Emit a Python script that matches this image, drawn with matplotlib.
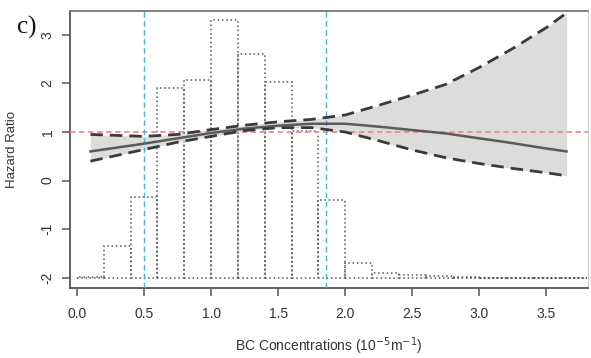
import matplotlib
matplotlib.use("Agg")
import matplotlib.pyplot as plt
import numpy as np

plt.rcParams["font.family"] = ["Liberation Sans", "DejaVu Sans"]

# Histogram of exposure (bin edges every 0.2), bar tops on the hazard-ratio axis, base at -2
bin_left = [0.0, 0.2, 0.4, 0.6, 0.8, 1.0, 1.2, 1.4, 1.6, 1.8, 2.0, 2.2, 2.4, 2.6,
            2.8, 3.0, 3.2, 3.4, 3.6]
bin_top = [-1.98, -1.35, -0.33, 1.90, 2.08, 3.30, 2.61, 2.02, 1.03, -0.39, -1.70,
           -1.91, -1.95, -1.97, -1.99, -2.0, -2.0, -2.0, -2.0]
hist_base = -2.0
bin_width = 0.2

# Fitted spline with confidence bounds
bc = [0.1, 0.3, 0.5, 0.75, 1.0, 1.25, 1.5, 1.75, 2.0, 2.25, 2.5, 2.75, 3.0, 3.25, 3.5, 3.65]
hr = [0.60, 0.68, 0.76, 0.87, 0.98, 1.07, 1.13, 1.17, 1.17, 1.11, 1.04, 0.97, 0.87, 0.77, 0.66, 0.60]
hr_upper = [0.95, 0.93, 0.91, 0.95, 1.05, 1.14, 1.21, 1.26, 1.35, 1.55, 1.76, 1.98, 2.33, 2.72, 3.15, 3.45]
hr_lower = [0.40, 0.52, 0.64, 0.79, 0.91, 1.03, 1.09, 1.09, 1.00, 0.82, 0.63, 0.47, 0.35, 0.25, 0.16, 0.10]

# Reference lines
ref_hr = 1.0
cut_points = [0.5, 1.86]

xticks = [0.0, 0.5, 1.0, 1.5, 2.0, 2.5, 3.0, 3.5]
yticks = [-2, -1, 0, 1, 2, 3]

W, H = 591, 358
fig = plt.figure(figsize=(W / 100, H / 100), dpi=100)
ax = fig.add_axes([70 / W, (H - 288) / H, (588 - 70) / W, (288 - 11) / H])

ax.bar(bin_left, np.array(bin_top) - hist_base, width=bin_width, bottom=hist_base,
       align="edge", fill=False, edgecolor="#555555", linestyle=(0, (1, 1.8)),
       linewidth=1.1, zorder=1)

ax.fill_between(bc, hr_lower, hr_upper, color="#dcdcdc", linewidth=0, zorder=2)
ax.plot(bc, hr, color="#5a5a5a", linewidth=1.8, zorder=4)
ax.plot(bc, hr_upper, color="#3a3a3a", linewidth=2.0, linestyle=(0, (4.5, 2.5)), zorder=4)
ax.plot(bc, hr_lower, color="#3a3a3a", linewidth=2.0, linestyle=(0, (4.5, 2.5)), zorder=4)

ax.axhline(ref_hr, color="#f08a8a", linewidth=1.3, linestyle=(0, (3, 2)), zorder=3)
for c in cut_points:
    ax.axvline(c, color="#48b4c8", linewidth=1.0, linestyle=(0, (4, 2.5)), zorder=3)

ax.set_xlim(-0.052, 3.81)
ax.set_ylim(-2.21, 3.49)
ax.set_xticks(xticks)
ax.set_xticklabels([f"{t:.1f}" for t in xticks])
ax.set_yticks(yticks)
ax.set_yticklabels([str(t) for t in yticks], rotation=90, va="center")

for s in ax.spines.values():
    s.set_color("#555555")
    s.set_linewidth(1.3)
ax.spines["right"].set_color("#cccccc")
ax.spines["right"].set_linewidth(0.8)
ax.spines["top"].set_color("#777777")

ax.tick_params(axis="both", direction="out", length=6, width=1.1, color="#555555",
               labelsize=10, labelcolor="#333333")
ax.tick_params(axis="x", pad=8)
ax.tick_params(axis="y", pad=5)

ax.set_xlabel("BC Concentrations (10$^{-5}$m$^{-1}$)", fontsize=10, color="#333333",
              labelpad=10)
ax.set_ylabel("Hazard Ratio", fontsize=9.5, color="#333333", labelpad=16)

fig.text(17 / W, 1 - 27 / H, "c)", fontsize=18, family="Liberation Serif",
         va="center", ha="left", color="#111111")

fig.savefig("out.png", dpi=100)
